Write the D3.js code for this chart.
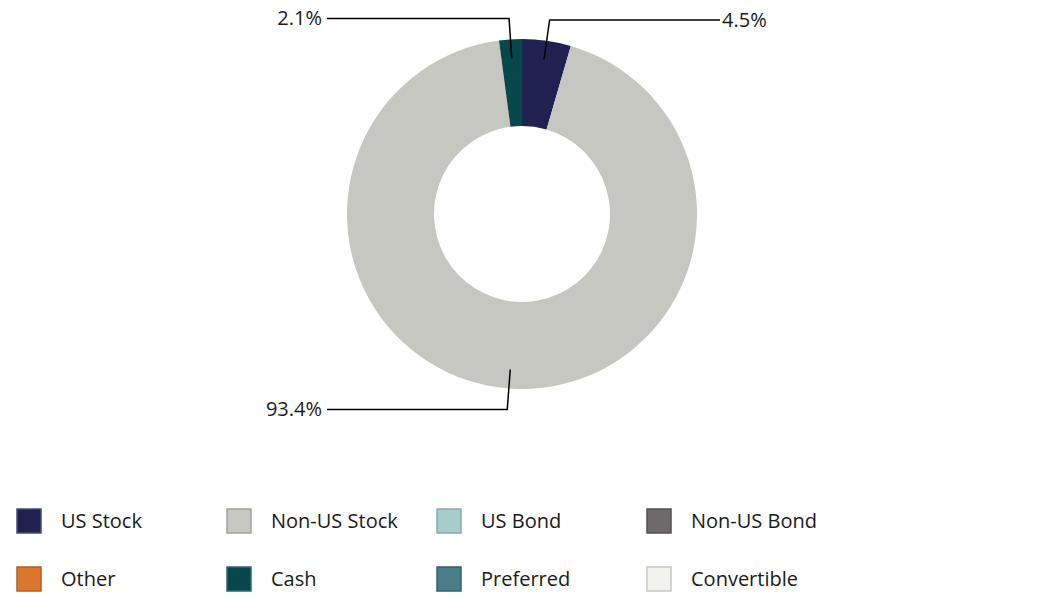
<!DOCTYPE html>
<html>
<head>
<meta charset="utf-8">
<script src="https://cdn.jsdelivr.net/npm/d3@7"></script>
<style>
  body { margin: 0; background: #fff; }
  text { font-family: "Open Sans", "Noto Sans", sans-serif; fill: #1a1a1a; }
</style>
</head>
<body>
<div id="donutChart"></div>
<script>
// Asset classes (legend order)
const categories = ["US Stock", "Non-US Stock", "US Bond", "Non-US Bond", "Other", "Cash", "Preferred", "Convertible"];
const values = [4.5, 93.4, 0, 0, 0, 2.1, 0, 0];
const fills = ["#1f2150", "#c6c7c1", "#a8cbcc", "#6e6a6b", "#d9782d", "#08474c", "#4a7c8a", "#f2f2ee"];
const strokes = ["#4a4c73", "#a3a49e", "#88aeb0", "#545152", "#b35e1f", "#2e6a6e", "#34616d", "#c9c9c3"];

const width = 1047, height = 597;
const cx = 522, cy = 214;
const outerR = 175, innerR = 88;

const data = categories.map((c, i) => ({ category: c, value: values[i], fill: fills[i], stroke: strokes[i] }));

const svg = d3.select("#donutChart")
    .append("svg")
    .attr("width", width)
    .attr("height", height);

const g = svg.append("g")
    .attr("transform", `translate(${cx},${cy})`);

const pie = d3.pie()
    .sort(null)
    .value(d => d.value);

const arc = d3.arc()
    .innerRadius(innerR)
    .outerRadius(outerR);

const arcs = pie(data).filter(d => d.data.value > 0);

g.selectAll(".slice")
    .data(arcs)
    .enter().append("path")
    .attr("class", "slice")
    .attr("d", arc)
    .attr("fill", d => d.data.fill);

// Leader lines and labels
const lineStart = d3.arc().innerRadius(156).outerRadius(156);
const lineElbow = d3.arc().innerRadius(196).outerRadius(196);
const rightX = 720 - cx, leftX = 327 - cx;

arcs.forEach(d => {
    const p0 = lineStart.centroid(d);
    const p1 = lineElbow.centroid(d);
    const mid = (d.startAngle + d.endAngle) / 2;
    const right = mid < Math.PI;
    const p2 = [right ? rightX : leftX, p1[1]];

    g.append("polyline")
        .attr("points", [p0, p1, p2].map(p => p.join(",")).join(" "))
        .attr("fill", "none")
        .attr("stroke", "#000")
        .attr("stroke-width", 1.5);

    g.append("text")
        .attr("x", p2[0] + (right ? 2 : -5))
        .attr("y", p2[1])
        .attr("dy", "0.35em")
        .attr("text-anchor", right ? "start" : "end")
        .style("font-size", "20px")
        .text(`${d.data.value.toFixed(1)}%`);
});

// Legend
const legend = svg.append("g").attr("class", "legend");
const colStep = 210, rowStep = 58;

const item = legend.selectAll(".item")
    .data(data)
    .enter().append("g")
    .attr("class", "item")
    .attr("transform", (d, i) => `translate(${17 + (i % 4) * colStep},${509 + Math.floor(i / 4) * rowStep})`);

item.append("rect")
    .attr("width", 24)
    .attr("height", 24)
    .attr("fill", d => d.fill)
    .attr("stroke", d => d.stroke)
    .attr("stroke-width", 1.5);

item.append("text")
    .attr("x", 44)
    .attr("y", 12)
    .attr("dy", "0.35em")
    .style("font-size", "20px")
    .text(d => d.category);
</script>
</body>
</html>
